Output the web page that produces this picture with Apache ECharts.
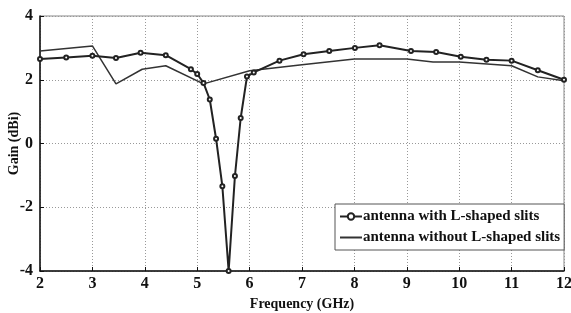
<!DOCTYPE html>
<html>
<head>
<meta charset="utf-8">
<script src="https://cdn.jsdelivr.net/npm/echarts@6/dist/echarts.min.js"></script>
<style>
  html, body { margin: 0; padding: 0; background: #fff; }
  #chart { width: 571px; height: 313px; }
</style>
</head>
<body>
<div id="chart"></div>
<script>
// antenna with L-shaped slits (circle markers)
const withSlitsFreq = [2, 2.5, 3, 3.45, 3.92, 4.4, 4.88, 5.0, 5.12, 5.24, 5.36, 5.48, 5.6, 5.72, 5.83, 5.95, 6.08, 6.57, 7.03, 7.52, 8.01, 8.48, 9.08, 9.56, 10.03, 10.52, 11.0, 11.5, 12];
const withSlitsGain = [2.65, 2.7, 2.75, 2.68, 2.85, 2.77, 2.33, 2.18, 1.9, 1.38, 0.15, -1.34, -4, -1.02, 0.8, 2.1, 2.23, 2.6, 2.8, 2.9, 3.0, 3.08, 2.9, 2.87, 2.72, 2.63, 2.6, 2.3, 2.0];
// antenna without L-shaped slits
const noSlitsFreq = [2, 3, 3.45, 3.95, 4.4, 5.12, 6, 7, 8, 9, 9.5, 10, 11, 11.5, 12];
const noSlitsGain = [2.9, 3.06, 1.87, 2.33, 2.44, 1.87, 2.28, 2.47, 2.65, 2.65, 2.56, 2.56, 2.44, 2.09, 1.97];

const seriesNames = ['antenna with L-shaped slits', 'antenna without L-shaped slits'];

const chart = echarts.init(document.getElementById('chart'));
const font = 'Liberation Serif';

const option = {
  animation: false,
  grid: { left: 40, right: 7, top: 16, bottom: 42, outerBoundsMode: 'none', containLabel: false,
          show: true, borderColor: '#888', borderWidth: 1 },
  legend: {
    orient: 'vertical',
    left: 335,
    top: 204,
    padding: [5, 4, 5, 4],
    itemGap: 6,
    itemWidth: 22,
    itemHeight: 8,
    borderColor: '#555',
    borderWidth: 1,
    backgroundColor: '#fff',
    textStyle: { fontFamily: font, fontWeight: 'bold', fontSize: 15, color: '#111', padding: [0, 0, 0, -4] },
    data: [
      { name: seriesNames[0] },
      { name: seriesNames[1],
        itemStyle: { color: 'transparent', borderColor: 'transparent' },
        lineStyle: { color: '#333', opacity: 1 } }
    ]
  },
  xAxis: {
    type: 'value',
    min: 2, max: 12, interval: 1,
    name: 'Frequency (GHz)',
    nameLocation: 'middle',
    nameGap: 26,
    nameMoveOverlap: false,
    nameTextStyle: { fontFamily: font, fontWeight: 'bold', fontSize: 14, color: '#111' },
    axisLine: { onZero: false, lineStyle: { color: '#111', width: 1.5 } },
    axisTick: { inside: true, length: 4, lineStyle: { color: '#111' } },
    axisLabel: { fontFamily: font, fontWeight: 'bold', fontSize: 16, color: '#111', margin: 5 },
    splitLine: { show: true, lineStyle: { color: '#999', type: [1, 2] } }
  },
  yAxis: {
    type: 'value',
    min: -4, max: 4, interval: 2,
    name: 'Gain (dBi)',
    nameLocation: 'middle',
    nameGap: 19,
    nameMoveOverlap: false,
    nameTextStyle: { fontFamily: font, fontWeight: 'bold', fontSize: 14, color: '#111' },
    axisLine: { onZero: false, lineStyle: { color: '#111', width: 1.5 } },
    axisTick: { inside: true, length: 4, lineStyle: { color: '#111' } },
    axisLabel: { fontFamily: font, fontWeight: 'bold', fontSize: 16, color: '#111', margin: 7 },
    splitLine: { show: true, lineStyle: { color: '#999', type: [1, 2] } }
  },
  series: [
    {
      name: seriesNames[0],
      type: 'line',
      data: withSlitsFreq.map((f, i) => [f, withSlitsGain[i]]),
      symbol: 'emptyCircle',
      symbolSize: 4,
      showAllSymbol: true,
      lineStyle: { color: '#222', width: 2 },
      itemStyle: { color: '#222', borderWidth: 1 },
      z: 3
    },
    {
      name: seriesNames[1],
      type: 'line',
      data: noSlitsFreq.map((f, i) => [f, noSlitsGain[i]]),
      symbol: 'none',
      lineStyle: { color: '#333', width: 1.5 },
      itemStyle: { color: '#333' },
      z: 2
    }
  ]
};
chart.setOption(option);
</script>
</body>
</html>
